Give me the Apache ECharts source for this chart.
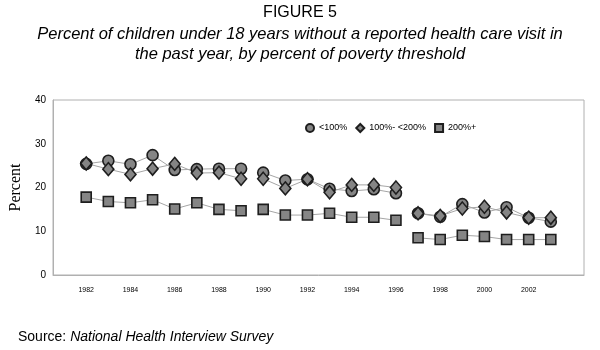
<!DOCTYPE html>
<html>
<head>
<meta charset="utf-8">
<script src="https://cdn.jsdelivr.net/npm/echarts@6/dist/echarts.min.js"></script>
<style>
html,body{margin:0;padding:0;background:#fff;}
#c{width:600px;height:350px;}
</style>
</head>
<body>
<div id="c"></div>
<script>
const years = [1982,1983,1984,1985,1986,1987,1988,1989,1990,1991,1992,1993,1994,1995,1996,1997,1998,1999,2000,2001,2002,2003];
const below100 = [25.4,26.1,25.3,27.4,24.0,24.2,24.3,24.3,23.4,21.6,21.9,19.7,19.2,19.6,18.7,14.1,13.3,16.2,14.3,15.5,13.1,12.2];
const from100to200 = [25.5,24.2,23.0,24.3,25.4,23.3,23.4,22.0,22.0,19.8,21.9,18.9,20.6,20.6,20.0,14.1,13.5,15.2,15.6,14.3,13.1,13.1];
const above200 = [17.8,16.8,16.5,17.2,15.1,16.5,15.0,14.7,15.0,13.7,13.7,14.1,13.2,13.2,12.5,8.5,8.1,9.1,8.8,8.1,8.1,8.1];
const segments = [[1982,1989],[1990,1996],[1997,2003]];
const seriesNames = ['<100%','100%- <200%','200%+'];
const xTickLabels = [1982,1984,1986,1988,1990,1992,1994,1996,1998,2000,2002];
const yTicks = [0,10,20,30,40];

const groups = [
  {name: seriesNames[0], values: below100, symbol: 'circle', size: 11},
  {name: seriesNames[1], values: from100to200, symbol: 'diamond', size: [11,13]},
  {name: seriesNames[2], values: above200, symbol: 'rect', size: 10}
];

const series = [];
groups.forEach(g => {
  segments.forEach(s => {
    series.push({
      type: 'line',
      name: g.name,
      symbol: g.symbol,
      symbolSize: g.size,
      showSymbol: true,
      lineStyle: {color: '#a6a6a6', width: 1},
      itemStyle: {color: '#858585', borderColor: '#1e1e1e', borderWidth: 1.6},
      data: years.map((y, i) => [y, g.values[i]]).filter(d => d[0] >= s[0] && d[0] <= s[1]),
      animation: false
    });
  });
});

const chart = echarts.init(document.getElementById('c'), null, {renderer: 'canvas'});
chart.setOption({
  animation: false,
  title: [
    {text: 'FIGURE 5', left: 'center', top: 0,
     textStyle: {fontFamily: 'Liberation Sans', fontSize: 16, fontWeight: 'normal', color: '#000'}},
    {text: 'Percent of children under 18 years without a reported health care visit in\nthe past year, by percent of poverty threshold',
     left: 'center', top: 19,
     textStyle: {fontFamily: 'Liberation Sans', fontSize: 16.5, fontStyle: 'italic', fontWeight: 'normal', color: '#000', lineHeight: 20, align: 'center'}},
    {text: '{a|Source: }{b|National Health Interview Survey}', left: 13, top: 325,
     textStyle: {fontWeight: 'normal', rich: {
       a: {fontFamily: 'Liberation Sans', fontSize: 14, fontWeight: 'normal', color: '#000'},
       b: {fontFamily: 'Liberation Sans', fontSize: 14, fontStyle: 'italic', fontWeight: 'normal', color: '#000'}
     }}}
  ],
  legend: {
    data: groups.map(g => ({name: g.name, icon: g.symbol})),
    left: 300, top: 118,
    itemWidth: 8, itemHeight: 8, itemGap: 8,
    textStyle: {fontFamily: 'Liberation Sans', fontSize: 9, color: '#000'},
    selectedMode: false
  },
  grid: {left: 53, right: 16, top: 100, bottom: 75, show: true, borderColor: '#b0b0b0', borderWidth: 1, backgroundColor: '#fff'},
  xAxis: {
    type: 'value', min: 1980.5, max: 2004.5,
    axisLine: {show: true, lineStyle: {color: '#b0b0b0'}},
    axisTick: {show: false},
    splitLine: {show: false},
    axisLabel: {customValues: xTickLabels, formatter: v => String(v), fontFamily: 'Liberation Sans', fontSize: 7, color: '#000', margin: 12}
  },
  yAxis: {
    type: 'value', min: yTicks[0], max: yTicks[yTicks.length-1], interval: 10,
    name: 'Percent', nameLocation: 'middle', nameGap: 28, nameRotate: 90,
    nameTextStyle: {fontFamily: 'Liberation Serif', fontSize: 16, color: '#000'},
    axisLine: {show: true, lineStyle: {color: '#b0b0b0'}},
    axisTick: {show: false},
    splitLine: {show: false},
    axisLabel: {fontFamily: 'Liberation Sans', fontSize: 10, color: '#000', margin: 7}
  },
  series: series
});
</script>
</body>
</html>
